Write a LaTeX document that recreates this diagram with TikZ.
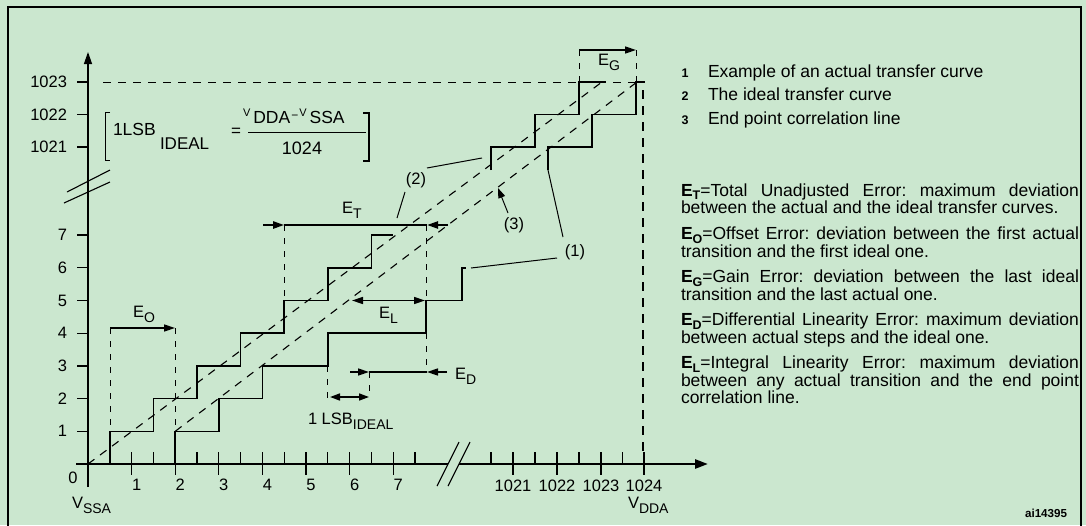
\documentclass[tikz,border=0pt]{standalone}
\usepackage{fontspec}
\setmainfont{Liberation Sans}
\usetikzlibrary{arrows.meta}
\definecolor{bg}{RGB}{203,231,207}
\newcommand{\sbs}[1]{\raisebox{-5pt}{\fontsize{14}{14}\selectfont #1}}
\newcommand{\eb}[1]{\textbf{E\raisebox{-3.5pt}{\fontsize{12.5}{12.5}\selectfont #1}}}
\newcommand{\jline}[1]{\makebox[398pt][s]{#1}}
\frenchspacing
\begin{document}
\begin{tikzpicture}[x=1pt,y=-1pt,
  every node/.style={inner sep=0pt,outer sep=0pt},
  lab/.style={font=\fontsize{16.5}{16.5}\selectfont},
  txt/.style={font=\fontsize{17.5}{17.5}\selectfont, anchor=base west},
  axisline/.style={line width=1.3pt},
  stair/.style={line width=1.5pt},
  diag/.style={line width=1.1pt, dash pattern=on 8pt off 7pt},
  guide/.style={line width=1pt, dash pattern=on 6pt off 7pt},
  meas/.style={line width=1.6pt},
  headend/.style={-{Triangle[length=11pt,width=7pt]}},
  headboth/.style={{Triangle[length=11pt,width=7pt]}-{Triangle[length=11pt,width=7pt]}},
]
\fill[bg] (0,0) rectangle (1086,525);
\useasboundingbox (0,0) rectangle (1086,525);

% ---------- axes ----------
\coordinate (ybot) at (88,487);
\coordinate (ytop) at (88,52);
\draw[axisline,-{Triangle[length=12pt,width=8pt]}] (ybot) -- (ytop);
\coordinate (xl) at (76,464);
\coordinate (xbr1) at (448,464);
\coordinate (xbr2) at (459,464);
\coordinate (xr) at (708,464);
\draw[axisline] (xl) -- (xbr1);
\draw[line width=2.6pt,-{Triangle[length=13pt,width=9pt]}] (xbr2) -- (xr);
% break marks
\draw[line width=1.1pt] (437,486) -- (459,442);
\draw[line width=1.1pt] (448,486) -- (470,442);
\draw[line width=1.1pt] (67,192) -- (110,170);
\draw[line width=1.1pt] (64,203) -- (110,182);

% y ticks and labels
\foreach \v/\yy in {1/431.3,2/398.6,3/365.9,4/333.2,5/300.5,6/267.8,7/235.1,1021/147,1022/114.5,1023/82}{
  \draw[axisline] (77,\yy) -- (88,\yy);
  \node[lab,anchor=east] (yl\v) at (67,\yy) {\v};
}
% x ticks
\foreach \xx in {109.8,153.4,197,240.6,284.2,327.8,371.4,415,491,535,579,622.5}{
  \draw[axisline] (\xx,452) -- (\xx,464);
}
\foreach \v/\xx in {1/131.6,2/175.2,3/218.8,4/262.4,5/306,6/349.6,7/393.2}{
  \draw[axisline] (\xx,452) -- (\xx,475);
  \node[lab,anchor=base] (xl\v) at (\xx+5,490) {\v};
}
\foreach \v/\xx in {1021/513,1022/557,1023/601,1024/644}{
  \draw[axisline] (\xx,452) -- (\xx,475);
  \node[lab,anchor=base] (xl\v) at (\xx,491) {\v};
}
\node[lab,anchor=base] (zero) at (73,483) {0};
\node[lab,anchor=base west] (vssa) at (72,508) {V\sbs{SSA}};
\node[lab,anchor=base west] (vdda) at (628,508) {V\sbs{DDA}};

% ---------- formula ----------
\draw[line width=1pt] (110,112) -- (105,112) -- (105,160) -- (110,160);
\draw[line width=1.8pt] (363,113) -- (369,113) -- (369,161) -- (363,161);
\node[anchor=base west,font=\fontsize{17.5}{17.5}\selectfont] (lsbf) at (113,135) {1LSB};
\node[anchor=base west,font=\fontsize{17}{17}\selectfont] (idealf) at (160,149) {IDEAL};
\node[font=\fontsize{17}{17}\selectfont] (eqf) at (236,132) {=};
\node[anchor=base west,font=\fontsize{17.5}{17.5}\selectfont] (numf) at (243,123)
  {\raisebox{7pt}{\fontsize{11}{11}\selectfont V}\kern3pt DDA\kern1pt\raisebox{4pt}{\fontsize{12}{12}\selectfont −}\kern1pt\raisebox{7pt}{\fontsize{11}{11}\selectfont V}\kern3pt SSA};
\draw[line width=1pt] (248,132) -- (366,132);
\node[anchor=base,font=\fontsize{18}{18}\selectfont] (denf) at (302,154) {1024};

% ---------- reference lines ----------
\draw[line width=1pt, dash pattern=on 8pt off 7pt] (103,82) -- (645,82);
\coordinate (a0) at (88,464);
\coordinate (a1) at (602,82);
\draw[diag] (a0) -- (a1);
\coordinate (b0) at (175.2,431.3);
\coordinate (b1) at (637,82);
\draw[diag] (b0) -- (b1);

% ---------- staircases ----------
\draw[stair] (109.8,464) -- (109.8,431.3) -- (153.4,431.3) -- (153.4,398.6) -- (197,398.6)
  -- (197,365.9) -- (240.6,365.9) -- (240.6,333.2) -- (284.2,333.2) -- (284.2,300.5)
  -- (327.8,300.5) -- (327.8,267.8) -- (371.4,267.8) -- (371.4,235.1) -- (393,235.1);
\draw[stair] (491,170) -- (491,147) -- (535,147) -- (535,114.5) -- (579,114.5) -- (579,82) -- (606,82);
\draw[stair] (175.2,464) -- (175.2,431.3) -- (218.8,431.3) -- (218.8,398.6) -- (262.4,398.6)
  -- (262.4,365.9) -- (327.8,365.9) -- (327.8,333.2) -- (426,333.2) -- (426,300.5)
  -- (462,300.5) -- (462,267.8) -- (466,267.8);
\draw[stair] (548,170) -- (548,147) -- (592,147) -- (592,114.5) -- (636,114.5) -- (636,82) -- (645,82);
\draw[line width=2.2pt,dash pattern=on 9pt off 7pt] (643,90) -- (643,452);

% ---------- guides ----------
\draw[guide] (110,328) -- (110,431);
\draw[guide] (175,328) -- (175,431);
\draw[guide] (284.2,225) -- (284.2,300);
\draw[guide] (426,225) -- (426,300);
\draw[guide] (426,333) -- (426,372);
\draw[guide] (369,372) -- (369,398);
\draw[guide] (327.8,366) -- (327.8,398);
\draw[guide] (579,50) -- (579,82);
\draw[guide] (636,50) -- (636,82);

% ---------- measurement arrows ----------
\coordinate (eo0) at (110,328); \coordinate (eo1) at (175,328);
\draw[meas,headend] (eo0) -- (eo1);
\node[lab,anchor=base west] (eolab) at (133,317) {E\sbs{O}};

\coordinate (et0) at (263,225); \coordinate (et1) at (284.2,225);
\coordinate (et2) at (427,225); \coordinate (et3) at (448,225);
\draw[line width=2.2pt,headend] (et0) -- (et1);
\draw[meas] (et1) -- (et2);
\draw[line width=2.2pt,headend] (et3) -- (et2);
\node[lab,anchor=base west] (etlab) at (342,213) {E\sbs{T}};

\coordinate (el0) at (352,300.5); \coordinate (el1) at (425,300.5);
\draw[meas,headboth] (el0) -- (el1);
\node[lab,anchor=base west] (ellab) at (379,318) {E\sbs{L}};

\coordinate (ed0) at (350,372); \coordinate (ed1) at (369,372);
\coordinate (ed2) at (427,372); \coordinate (ed3) at (447,372);
\draw[meas,headend] (ed0) -- (ed1);
\draw[meas] (ed1) -- (ed2);
\draw[meas,headend] (ed3) -- (ed2);
\node[lab,anchor=base west] (edlab) at (455,379) {E\sbs{D}};

\coordinate (ls0) at (330,397); \coordinate (ls1) at (369,397);
\draw[meas,{Triangle[length=10pt,width=7pt]}-{Triangle[length=10pt,width=7pt]}] (ls0) -- (ls1);
\node[lab,anchor=base west] (lsblab) at (308,424) {1 LSB\sbs{IDEAL}};

\coordinate (eg0) at (579,50); \coordinate (eg1) at (636,50);
\draw[meas,headend] (eg0) -- (eg1);
\node[lab,anchor=base west] (eglab) at (598,65) {E\sbs{G}};

% ---------- callouts ----------
\node[lab] (c2) at (416,180) {(2)};
\node[lab] (c3) at (514,225) {(3)};
\node[lab] (c1) at (575,252) {(1)};
\coordinate (c2a) at (405,192); \coordinate (c2b) at (397,218);
\coordinate (c2c) at (427,168); \coordinate (c2d) at (482,158);
\draw[line width=1pt] (c2a) -- (c2b);
\draw[line width=1pt] (c2c) -- (c2d);
\coordinate (c1a) at (563,237); \coordinate (c1b) at (548,170);
\coordinate (c1c) at (557,258); \coordinate (c1d) at (471,268);
\draw[line width=1pt] (c1a) -- (c1b);
\draw[line width=1pt] (c1c) -- (c1d);
\coordinate (c3a) at (508,213); \coordinate (c3b) at (498,188);
\draw[line width=1pt,-{Triangle[length=10pt,width=7pt]}] (c3a) -- (c3b);

% ---------- legend ----------
\foreach \n/\yy/\t in {1/77.3/Example of an actual transfer curve,2/100.6/The ideal transfer curve,3/124/End point correlation line}{
  \node[anchor=base,font=\bfseries\fontsize{12.5}{12.5}\selectfont] (ln\n) at (685,\yy) {\n};
  \node[txt] (lt\n) at (708,\yy) {\t};
}

% ---------- definitions ----------
\node[txt] (d1) at (681,196) {\jline{\eb{T}=Total Unadjusted Error: maximum deviation}};
\node[txt] (d2) at (681,213.3) {between the actual and the ideal transfer curves.};
\node[txt] (d3) at (681,239.5) {\jline{\eb{O}=Offset Error: deviation between the first actual}};
\node[txt] (d4) at (681,257) {transition and the first ideal one.};
\node[txt] (d5) at (681,282.5) {\jline{\eb{G}=Gain Error: deviation between the last ideal}};
\node[txt] (d6) at (681,300) {transition and the last actual one.};
\node[txt] (d7) at (681,325.5) {\jline{\eb{D}=Differential Linearity Error: maximum deviation}};
\node[txt] (d8) at (681,343) {between actual steps and the ideal one.};
\node[txt] (d9) at (681,368.5) {\jline{\eb{L}=Integral Linearity Error: maximum deviation}};
\node[txt] (d10) at (681,386) {\jline{between any actual transition and the end point}};
\node[txt] (d11) at (681,403.5) {correlation line.};

\node[anchor=base east,font=\bfseries\fontsize{11.6}{11.6}\selectfont] (code) at (1067,517) {ai14395};

% ---------- frame ----------
\draw[line width=2.2pt] (8,526) -- (8,7) -- (1081,7) -- (1081,526);
\end{tikzpicture}
\end{document}
